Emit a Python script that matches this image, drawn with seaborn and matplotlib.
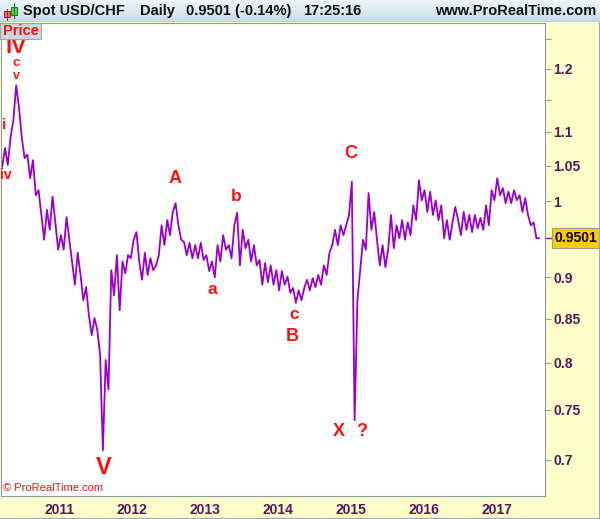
import numpy as np
import pandas as pd
import matplotlib
matplotlib.use('Agg')
import matplotlib.pyplot as plt
import matplotlib.dates as mdates
from matplotlib.patches import Rectangle
from matplotlib.lines import Line2D
from matplotlib.colors import LinearSegmentedColormap
from matplotlib.ticker import FixedLocator, FixedFormatter, NullFormatter
import seaborn as sns

# Spot USD/CHF, one reading every two weeks from March 2010,
# alternating swing high / swing low so the line keeps its daily "noise"
start_date = '2010-03-08'
usdchf = [
    1.073, 1.048, 1.076, 1.051, 1.092, 1.118, 1.173, 1.138, 1.092, 1.061,
    1.066, 1.032, 1.058, 1.008, 1.015, 0.981, 0.948, 0.988, 0.961, 1.006,
    0.971, 0.935, 0.954, 0.935, 0.978, 0.948, 0.920, 0.891, 0.931, 0.903,
    0.872, 0.888, 0.854, 0.831, 0.851, 0.837, 0.809, 0.709, 0.803, 0.771,
    0.909, 0.878, 0.928, 0.860, 0.920, 0.905, 0.928, 0.924, 0.948, 0.958,
    0.920, 0.897, 0.931, 0.903, 0.924, 0.909, 0.915, 0.928, 0.967, 0.941,
    0.974, 0.954, 0.985, 0.997, 0.967, 0.948, 0.945, 0.928, 0.944, 0.924,
    0.941, 0.924, 0.944, 0.922, 0.928, 0.908, 0.920, 0.900, 0.941, 0.920,
    0.954, 0.935, 0.941, 0.924, 0.967, 0.984, 0.915, 0.961, 0.937, 0.948,
    0.920, 0.941, 0.915, 0.922, 0.891, 0.918, 0.894, 0.915, 0.891, 0.909,
    0.884, 0.908, 0.891, 0.901, 0.881, 0.887, 0.869, 0.884, 0.872, 0.887,
    0.897, 0.884, 0.899, 0.888, 0.903, 0.891, 0.915, 0.903, 0.931, 0.941,
    0.961, 0.941, 0.967, 0.954, 0.967, 0.981, 1.027, 0.739, 0.872, 0.909,
    0.948, 0.935, 1.011, 0.961, 0.985, 0.948, 0.915, 0.941, 0.913, 0.935,
    0.981, 0.937, 0.967, 0.950, 0.974, 0.948, 0.971, 0.954, 0.994, 0.974,
    1.029, 1.001, 1.015, 0.985, 1.013, 0.981, 1.001, 0.974, 0.994, 0.950,
    0.974, 0.948, 0.971, 0.992, 0.974, 0.954, 0.985, 0.961, 0.981, 0.958,
    0.981, 0.963, 0.977, 0.961, 0.994, 0.967, 1.015, 1.001, 1.032, 1.008,
    1.018, 0.997, 1.013, 0.997, 1.015, 1.001, 1.008, 0.985, 1.004, 0.981,
    0.967, 0.971, 0.950, 0.9501,
]
last_price = 0.9501

year_ticks = ['2011', '2012', '2013', '2014', '2015', '2016', '2017']
price_ticks = [0.7, 0.75, 0.8, 0.85, 0.9, 1.0, 1.05, 1.1, 1.2]
price_labels = ['0.7', '0.75', '0.8', '0.85', '0.9', '1', '1.05', '1.1', '1.2']
minor_price_ticks = [1.15, 1.25]

# Elliott wave labels written on the chart
wave_labels = ['IV', 'c', 'v', 'i', 'iv', 'A', 'a', 'b', 'c', 'B', 'C', 'X', '?', 'V']
wave_dates = ['2010-05-30', '2010-05-30', '2010-05-30', '2010-03-31', '2010-04-10',
              '2012-08-05', '2013-02-07', '2013-06-07', '2014-03-21', '2014-03-11',
              '2014-12-29', '2014-11-01', '2015-02-22', '2011-08-13']
wave_prices = [1.236, 1.210, 1.189, 1.111, 1.036,
               1.0315, 0.885, 1.006, 0.855, 0.830,
               1.067, 0.7276, 0.7276, 0.692]
wave_sizes = [16, 9.5, 9, 11, 10, 13, 12.5, 12.5, 12.5, 13, 13, 13, 13, 17]

RED = '#FF1010'
PURPLE = '#9900CC'
AXIS_TXT = '#5A145A'
GREY = '#8C9AA6'

W, H = 600, 519


def px(x):
    return x / W


def py(y):
    return 1 - y / H


sns.set_style('white')
plt.rcParams['font.family'] = ['Liberation Sans', 'DejaVu Sans']

dates = pd.date_range(start_date, periods=len(usdchf), freq='14D')
df = pd.DataFrame({'date': dates, 'price': usdchf})

fig = plt.figure(figsize=(W / 100, H / 100), dpi=100)
fig.patch.set_facecolor('#FFFFCC')

# main price panel
ax = fig.add_axes([px(1), py(496), px(545) - px(1), py(23) - py(496)])
ax.set_facecolor('white')
sns.lineplot(data=df, x='date', y='price', ax=ax, color=PURPLE, linewidth=1.3)
ax.set_yscale('log')
ax.set_ylim(0.6657, 1.2783)
ax.set_xlim(pd.Timestamp('2010-03-16'), pd.Timestamp('2017-08-29'))
ax.set_xlabel('')
ax.set_ylabel('')

ax.yaxis.tick_right()
ax.yaxis.set_major_locator(FixedLocator(price_ticks))
ax.yaxis.set_major_formatter(FixedFormatter(price_labels))
ax.yaxis.set_minor_locator(FixedLocator(minor_price_ticks))
ax.yaxis.set_minor_formatter(NullFormatter())

year_pos = [mdates.date2num(pd.Timestamp(y + '-01-01')) for y in year_ticks]
ax.xaxis.set_major_locator(FixedLocator(year_pos))
ax.xaxis.set_major_formatter(FixedFormatter(year_ticks))

ax.tick_params(axis='both', which='both', direction='out', length=4, width=0.8,
               color=GREY, labelsize=10, labelcolor=AXIS_TXT)
ax.tick_params(axis='y', which='both', pad=2, right=True, left=False)
ax.tick_params(axis='x', pad=1)
for lbl in ax.get_xticklabels() + ax.get_yticklabels():
    lbl.set_fontweight('bold')
for sp in ax.spines.values():
    sp.set_color(GREY)
    sp.set_linewidth(0.8)

# last price marker + box on the price scale
ax.add_line(Line2D([1.0, 1.012], [last_price, last_price], transform=ax.get_yaxis_transform(),
                   color=PURPLE, lw=1, clip_on=False))
ax.text(1.0175, last_price, f'{last_price:.4f}', transform=ax.get_yaxis_transform(),
        ha='left', va='center', fontsize=10, fontweight='bold', color='black',
        bbox=dict(boxstyle='square,pad=0.2', fc='#FFCC00', ec='#9A9A9A', lw=0.8))

# wave labels
for lab, d, p, s in zip(wave_labels, wave_dates, wave_prices, wave_sizes):
    ax.text(mdates.date2num(pd.Timestamp(d)), p, lab, ha='center', va='center',
            fontsize=s, fontweight='bold', color=RED, zorder=5)

# header bar
hax = fig.add_axes([0, py(22), 1, 22 / H])
grad = np.linspace(0, 1, 32).reshape(-1, 1)
hcmap = LinearSegmentedColormap.from_list('hdr', ['#EEF7FC', '#C8DCE7'])
hax.imshow(grad, cmap=hcmap, aspect='auto', extent=[0, W, 22, 0])
hax.set_xlim(0, W)
hax.set_ylim(22, 0)
hax.axis('off')
hax.add_line(Line2D([0, W], [21.6, 21.6], color='#9AA6B0', lw=1))
# small candle icon
hax.add_line(Line2D([6.5, 6.5], [9, 20], color='#A03030', lw=0.8))
hax.add_patch(Rectangle((3.5, 11.5), 6, 6, fc='#E87070', ec='#A03030', lw=0.8))
hax.add_line(Line2D([14, 14], [3, 18], color='#208020', lw=0.8))
hax.add_patch(Rectangle((11, 6.5), 6, 8.5, fc='#5CD05C', ec='#208020', lw=0.8))
hdr_font = dict(fontsize=10.5, fontweight='bold', color='#111111', va='center')
hax.text(23, 11, 'Spot USD/CHF', ha='left', **hdr_font)
hax.text(140, 11, 'Daily', ha='left', **hdr_font)
hax.text(186, 11, '0.9501 (-0.14%)', ha='left', **hdr_font)
hax.text(303, 11, '17:25:16', ha='left', **hdr_font)
hax.text(596, 11, 'www.ProRealTime.com', ha='right', **hdr_font)

# "Price" tag in the corner of the panel
fig.add_artist(Rectangle((px(0), py(39)), px(41), 16 / H, transform=fig.transFigure,
                         fc='#C9D7DF', ec='#9AA6B0', lw=0.8, zorder=10))
fig.text(px(3), py(31), 'Price', ha='left', va='center', fontsize=10.5,
         fontweight='bold', color=RED, zorder=11)

fig.text(px(3), py(488), '\u00a9 ProRealTime.com', ha='left', va='center',
         fontsize=8, color=RED, zorder=11)

# outer frame of the scale panels
fig.add_artist(Line2D([px(598.5), px(598.5)], [py(517.5), py(22)], transform=fig.transFigure,
                      color='#9AA6B0', lw=0.8))
fig.add_artist(Line2D([px(0), px(598.5)], [py(517.5), py(517.5)], transform=fig.transFigure,
                      color='#9AA6B0', lw=0.8))

fig.savefig('out.png', dpi=100, facecolor=fig.get_facecolor())
